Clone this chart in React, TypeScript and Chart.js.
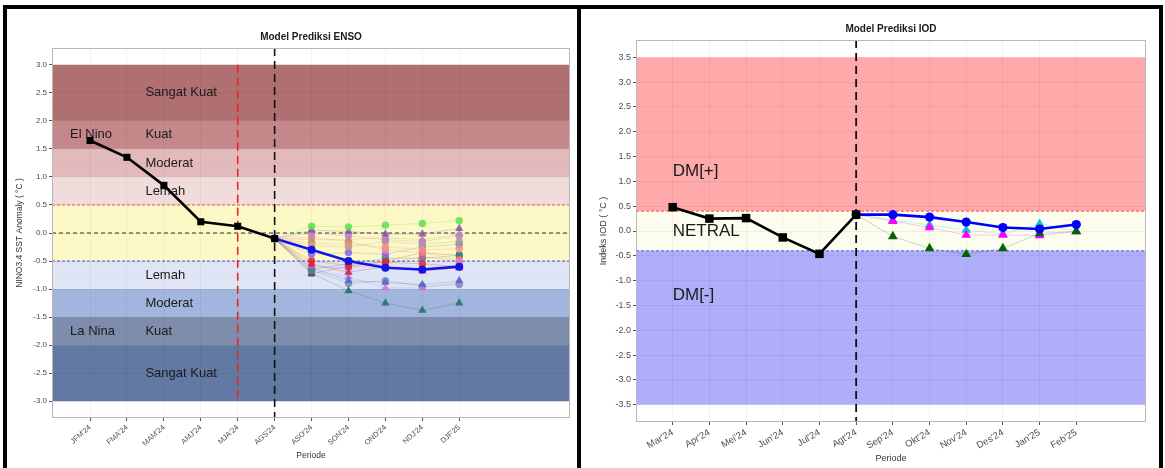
import React, { useEffect, useRef } from "react";
import { Chart, registerables } from "chart.js";
Chart.register(...registerables);

const FONT = "'Liberation Sans', Arial, sans-serif";

// ---------------- ENSO data ----------------
const ensoPeriods = ["JFM'24", "FMA'24", "MAM'24", "AMJ'24", "MJA'24", "AGS'24", "ASO'24", "SON'24", "OND'24", "NDJ'24", "DJF'25"];
const ensoObserved = [1.65, 1.35, 0.85, 0.2, 0.12, -0.1];
const ensoForecastStart = 5;
const ensoMean = [-0.1, -0.3, -0.5, -0.62, -0.65, -0.6];
const ensoModels = [
  [-0.1, 0.12, 0.11, 0.14, 0.17, 0.22],
  [-0.1, 0.05, 0.03, -0.02, -0.02, 0.08],
  [-0.1, 0.0, -0.05, -0.12, -0.15, -0.05],
  [-0.1, -0.12, -0.12, -0.08, -0.12, -0.02],
  [-0.1, -0.18, -0.2, -0.25, -0.3, -0.28],
  [-0.1, -0.22, -0.25, -0.15, -0.2, -0.15],
  [-0.1, -0.08, -0.15, -0.3, -0.35, -0.48],
  [-0.1, -0.38, -0.35, -0.38, -0.25, -0.2],
  [-0.1, -0.5, -0.58, -0.52, -0.55, -0.6],
  [-0.1, -0.55, -0.7, -0.6, -0.68, -0.62],
  [-0.1, -0.6, -0.62, -0.55, -0.42, -0.5],
  [-0.1, -0.65, -0.55, -0.45, -0.45, -0.4],
  [-0.1, -0.62, -0.85, -0.88, -0.92, -0.85],
  [-0.1, -0.68, -0.78, -0.98, -0.98, -0.88],
  [-0.1, -0.72, -1.03, -1.25, -1.38, -1.25],
  [-0.1, -0.72, -0.6, -0.5, -0.35, -0.4],
  [-0.1, -0.66, -0.9, -0.85, -0.95, -0.92],
];
const ensoModelColors = ["#5ee04a", "#7a4fb0", "#c080c0", "#b09870", "#f09080", "#90a890", "#f07aa0", "#8a60f0", "#e02828", "#c01a50", "#e050a0", "#2a8a8a", "#4a6ad0", "#d070d0", "#1a6e68", "#8a3a3a", "#7090b0"];
const ensoModelShapes = ["circle", "triangle", "circle", "triangle", "circle", "circle", "circle", "circle", "circle", "triangle", "triangle", "circle", "triangle", "triangle", "triangle", "rect", "circle"];
const ensoYTicks = [-3, -2.5, -2, -1.5, -1, -0.5, 0, 0.5, 1, 1.5, 2, 2.5, 3];
const ensoBandEdges = [3, 2, 1.5, 1, 0.5, -0.5, -1, -1.5, -2, -3];
const ensoBandColors = ["#b07072", "#c4888b", "#e2babb", "#f1dcdc", "#fcf9c6", "#dfe5f4", "#a2b5dc", "#7d8dab", "#6279a3"];
const ensoLabelTexts = ["Sangat Kuat", "Kuat", "Moderat", "Lemah", "Lemah", "Moderat", "Kuat", "Sangat Kuat", "El Nino", "La Nina"];
const ensoLabelY = [2.5, 1.75, 1.25, 0.75, -0.75, -1.25, -1.75, -2.5, 1.75, -1.75];
const ensoLabelX = [1.5, 1.5, 1.5, 1.5, 1.5, 1.5, 1.5, 1.5, -0.54, -0.54];

// ---------------- IOD data ----------------
const iodPeriods = ["Mar'24", "Apr'24", "Mei'24", "Jun'24", "Jul'24", "Agt'24", "Sep'24", "Okt'24", "Nov'24", "Des'24", "Jan'25", "Feb'25"];
const iodObserved = [0.48, 0.25, 0.26, -0.13, -0.46, 0.33];
const iodForecastStart = 5;
const iodMean = [0.33, 0.33, 0.28, 0.18, 0.07, 0.04, 0.13];
const iodModels = [
  [0.33, -0.11, -0.35, -0.47, -0.35, -0.05, -0.01],
  [0.33, 0.2, 0.07, -0.08, -0.08, -0.09, -0.01],
  [0.33, 0.22, 0.12, 0.02, -0.06, 0.14, 0.0],
];
const iodModelColors = ["#006400", "#ff00ff", "#00cccc"];
const iodYTicks = [-3.5, -3, -2.5, -2, -1.5, -1, -0.5, 0, 0.5, 1, 1.5, 2, 2.5, 3, 3.5];
const iodBandEdges = [3.5, 0.4, -0.4, -3.5];
const iodBandColors = ["#ffaaaa", "#fdfdef", "#aeaefa"];
const iodLabelTexts = ["DM[+]", "NETRAL", "DM[-]"];
const iodLabelY = [1.2, 0.0, -1.3];
const iodLabelX = [0, 0, 0];

const pts = (start: number, vals: number[]) => vals.map((v, i) => ({ x: start + i, y: v }));
const hexA = (hex: string, a: number) => {
  const n = parseInt(hex.slice(1), 16);
  return `rgba(${(n >> 16) & 255},${(n >> 8) & 255},${n & 255},${a})`;
};

function dashedH(ctx: any, a: any, py: number, color: string, dash: number[]) {
  ctx.save();
  ctx.strokeStyle = color;
  ctx.lineWidth = 1;
  ctx.setLineDash(dash);
  ctx.beginPath();
  ctx.moveTo(a.left, py);
  ctx.lineTo(a.right, py);
  ctx.stroke();
  ctx.restore();
}
function dashedV(ctx: any, px: number, y1: number, y2: number, color: string, dash: number[], w: number) {
  ctx.save();
  ctx.strokeStyle = color;
  ctx.lineWidth = w;
  ctx.setLineDash(dash);
  ctx.beginPath();
  ctx.moveTo(px, y1);
  ctx.lineTo(px, y2);
  ctx.stroke();
  ctx.restore();
}

type Decor = {
  id: string;
  title: string;
  edges: number[];
  colors: string[];
  minorStep: number;
  yMinorRange: [number, number];
  drawLines: (chart: any) => void;
  labels: string[];
  labelX: number[];
  labelY: number[];
  labelFont: string;
};

function decorPlugin(d: Decor) {
  return {
    id: d.id,
    beforeDraw(chart: any) {
      const { ctx, chartArea: a, scales } = chart;
      const y = scales.y;
      ctx.save();
      ctx.fillStyle = "#ffffff";
      ctx.fillRect(0, 0, chart.width, chart.height);
      for (let i = 0; i < d.colors.length; i++) {
        const y1 = y.getPixelForValue(d.edges[i]);
        const y2 = y.getPixelForValue(d.edges[i + 1]);
        ctx.fillStyle = d.colors[i];
        ctx.fillRect(a.left, y1, a.right - a.left, y2 - y1);
      }
      // minor grid
      ctx.strokeStyle = "rgba(0,0,0,0.022)";
      ctx.lineWidth = 0.6;
      for (let v = d.yMinorRange[0]; v <= d.yMinorRange[1] + 1e-9; v += d.minorStep) {
        const py = Math.round(y.getPixelForValue(v)) + 0.5;
        ctx.beginPath();
        ctx.moveTo(a.left, py);
        ctx.lineTo(a.right, py);
        ctx.stroke();
      }
      ctx.restore();
    },
    beforeDatasetsDraw(chart: any) {
      const { ctx, chartArea: a, scales } = chart;
      const x = scales.x;
      const y = scales.y;
      d.drawLines(chart);
      ctx.save();
      ctx.fillStyle = "#1a1a1a";
      ctx.font = d.labelFont;
      ctx.textAlign = "left";
      ctx.textBaseline = "middle";
      for (let i = 0; i < d.labels.length; i++) {
        ctx.fillText(d.labels[i], x.getPixelForValue(d.labelX[i]), y.getPixelForValue(d.labelY[i]));
      }
      ctx.restore();
      ctx.save();
      ctx.strokeStyle = "#b8b8b8";
      ctx.lineWidth = 1;
      ctx.strokeRect(a.left + 0.5, a.top + 0.5, a.right - a.left - 1, a.bottom - a.top - 1);
      ctx.fillStyle = "#1a1a1a";
      ctx.font = `bold 10px ${FONT}`;
      ctx.textAlign = "center";
      ctx.textBaseline = "middle";
      ctx.fillText(d.title, (a.left + a.right) / 2, a.top - 11);
      ctx.restore();
    },
  };
}

function axes(o: any) {
  return {
    x: {
      type: "linear",
      min: o.xMin,
      max: o.xMax,
      afterBuildTicks: (s: any) => {
        s.ticks = o.labels.map((_: string, i: number) => ({ value: i }));
      },
      afterFit: (s: any) => {
        s.height = o.xHeight;
      },
      ticks: {
        autoSkip: false,
        minRotation: o.rot,
        maxRotation: o.rot,
        padding: 2,
        color: "#4d4d4d",
        font: { family: FONT, size: o.xFont },
        callback: (v: number) => o.labels[Math.round(v)] ?? "",
      },
      grid: { color: "rgba(0,0,0,0.045)", tickColor: "#555", tickLength: 3, lineWidth: 1 },
      border: { display: false },
      title: {
        display: true,
        text: "Periode",
        color: "#333",
        font: { family: FONT, size: o.titleFont },
        padding: { top: 0, bottom: o.xTitlePad },
      },
    },
    y: {
      type: "linear",
      min: o.yMin,
      max: o.yMax,
      afterBuildTicks: (s: any) => {
        s.ticks = o.yTicks.map((v: number) => ({ value: v }));
      },
      afterFit: (s: any) => {
        s.width = o.yWidth;
      },
      ticks: {
        padding: 2,
        color: "#4d4d4d",
        font: { family: FONT, size: o.yFont },
        callback: (v: number) => Number(v).toFixed(1),
      },
      grid: { color: "rgba(0,0,0,0.045)", tickColor: "#555", tickLength: 3, lineWidth: 1 },
      border: { display: false },
      title: {
        display: true,
        text: o.yTitle,
        color: "#333",
        font: { family: FONT, size: o.titleFont },
        padding: { top: o.yTitlePad, bottom: 0 },
      },
    },
  };
}

function ensoConfig(): any {
  const datasets: any[] = [];
  datasets.push({
    data: pts(0, ensoObserved),
    borderColor: "#000",
    backgroundColor: "#000",
    borderWidth: 2.6,
    pointRadius: 5,
    pointBorderWidth: 0,
    pointStyle: "rect",
  });
  datasets.push({
    data: pts(ensoForecastStart, ensoMean),
    borderColor: "#1414e8",
    backgroundColor: "#1414e8",
    borderWidth: 2.6,
    pointRadius: 4,
    pointBorderWidth: 0,
    pointStyle: "circle",
  });
  ensoModels.forEach((vals, k) => {
    const c = ensoModelColors[k];
    const shape = ensoModelShapes[k];
    const r = shape === "triangle" ? 4.8 : shape === "rect" ? 4.6 : 3.7;
    datasets.push({
      data: pts(ensoForecastStart, vals),
      borderColor: hexA(c, 0.3),
      borderWidth: 0.8,
      pointBackgroundColor: hexA(c, 0.85),
      pointBorderWidth: 0,
      pointRadius: vals.map((_, i) => (i === 0 ? 0 : r)),
      pointStyle: shape,
    });
  });
  const decor = decorPlugin({
    id: "ensoDecor",
    title: "Model Prediksi ENSO",
    edges: ensoBandEdges,
    colors: ensoBandColors,
    minorStep: 0.25,
    yMinorRange: [-3.25, 3.25],
    labels: ensoLabelTexts,
    labelX: ensoLabelX,
    labelY: ensoLabelY,
    labelFont: `13px ${FONT}`,
    drawLines: (chart: any) => {
      const { ctx, chartArea: a, scales } = chart;
      const x = scales.x;
      const y = scales.y;
      dashedH(ctx, a, y.getPixelForValue(0.5), "#f05050", [3, 2]);
      dashedH(ctx, a, y.getPixelForValue(0), "#333333", [4, 3]);
      dashedH(ctx, a, y.getPixelForValue(-0.5), "#4a4ae0", [3, 2]);
      dashedV(ctx, x.getPixelForValue(4), y.getPixelForValue(3), y.getPixelForValue(-3), "#ee2222", [8, 5], 1.6);
      dashedV(ctx, x.getPixelForValue(5), a.top, a.bottom, "#111111", [8, 5], 1.6);
    },
  });
  return {
    type: "line",
    data: { datasets },
    plugins: [decor],
    options: {
      responsive: false,
      animation: false,
      devicePixelRatio: 1,
      layout: { padding: { top: 39, right: 7, left: 0, bottom: 0 } },
      plugins: { legend: { display: false }, tooltip: { enabled: false }, title: { display: false } },
      elements: { line: { tension: 0 } },
      scales: axes({
        xMin: -1.03,
        xMax: 13.0,
        labels: ensoPeriods,
        xHeight: 50,
        rot: 42,
        xFont: 7.5,
        titleFont: 8.5,
        xTitlePad: 7,
        yMin: -3.3,
        yMax: 3.3,
        yTicks: ensoYTicks,
        yWidth: 44,
        yFont: 8,
        yTitle: "NINO3.4 SST Anomaly ( °C )",
        yTitlePad: 7,
      }),
    },
  };
}

function iodConfig(): any {
  const datasets: any[] = [];
  datasets.push({
    data: pts(0, iodObserved),
    borderColor: "#000",
    backgroundColor: "#000",
    borderWidth: 2.6,
    pointRadius: 6,
    pointBorderWidth: 0,
    pointStyle: "rect",
  });
  datasets.push({
    data: pts(iodForecastStart, iodMean),
    borderColor: "#0000ff",
    backgroundColor: "#0000ff",
    borderWidth: 2.6,
    pointRadius: 4.6,
    pointBorderWidth: 0,
    pointStyle: "circle",
  });
  iodModels.forEach((vals, k) => {
    const c = iodModelColors[k];
    datasets.push({
      data: pts(iodForecastStart, vals),
      borderColor: hexA(c, 0.25),
      borderWidth: 0.9,
      pointBackgroundColor: c,
      pointBorderWidth: 0,
      pointRadius: vals.map((_, i) => (i === 0 ? 0 : 5.6)),
      pointStyle: "triangle",
    });
  });
  const decor = decorPlugin({
    id: "iodDecor",
    title: "Model Prediksi IOD",
    edges: iodBandEdges,
    colors: iodBandColors,
    minorStep: 0.25,
    yMinorRange: [-3.75, 3.75],
    labels: iodLabelTexts,
    labelX: iodLabelX,
    labelY: iodLabelY,
    labelFont: `17px ${FONT}`,
    drawLines: (chart: any) => {
      const { ctx, chartArea: a, scales } = chart;
      const x = scales.x;
      const y = scales.y;
      dashedH(ctx, a, y.getPixelForValue(0.4), "#ff4d4d", [3, 2]);
      dashedH(ctx, a, y.getPixelForValue(-0.4), "#4d4dff", [3, 2]);
      dashedV(ctx, x.getPixelForValue(5), a.top, a.bottom, "#111111", [8, 5], 1.8);
    },
  });
  return {
    type: "line",
    data: { datasets },
    plugins: [decor],
    options: {
      responsive: false,
      animation: false,
      devicePixelRatio: 1,
      layout: { padding: { top: 31, right: 12, left: 0, bottom: 0 } },
      plugins: { legend: { display: false }, tooltip: { enabled: false }, title: { display: false } },
      elements: { line: { tension: 0 } },
      scales: axes({
        xMin: -1.0,
        xMax: 12.9,
        labels: iodPeriods,
        xHeight: 46,
        rot: 30,
        xFont: 9.5,
        titleFont: 9,
        xTitlePad: 4,
        yMin: -3.85,
        yMax: 3.85,
        yTicks: iodYTicks,
        yWidth: 54,
        yFont: 9,
        yTitle: "Indeks IOD ( °C )",
        yTitlePad: 16,
      }),
    },
  };
}

function ChartCanvas(props: { left: number; top: number; width: number; height: number; build: () => any }) {
  const ref = useRef<HTMLCanvasElement>(null);
  useEffect(() => {
    const chart = new Chart(ref.current as HTMLCanvasElement, props.build());
    return () => chart.destroy();
  }, []);
  return (
    <canvas
      ref={ref}
      width={props.width}
      height={props.height}
      style={{ position: "absolute", left: props.left, top: props.top, width: props.width, height: props.height }}
    />
  );
}

export default function App() {
  return (
    <div style={{ position: "absolute", left: 0, top: 0, width: 1165, height: 468, background: "#fff", overflow: "hidden" }}>
      <ChartCanvas left={8} top={9} width={569} height={459} build={ensoConfig} />
      <ChartCanvas left={582} top={9} width={576} height={459} build={iodConfig} />
      <div style={{ position: "absolute", left: 3, top: 5, width: 1160, height: 520, border: "4px solid #000", boxSizing: "border-box" }} />
      <div style={{ position: "absolute", left: 577, top: 5, width: 4, height: 520, background: "#000" }} />
    </div>
  );
}
